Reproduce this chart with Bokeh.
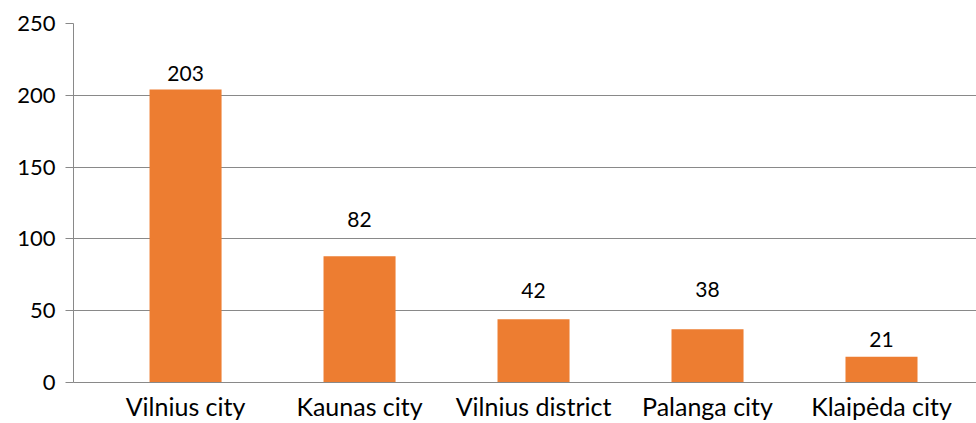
from bokeh.plotting import figure
from bokeh.models import ColumnDataSource, FixedTicker, Range1d
from bokeh.core.properties import value
from bokeh.embed import file_html
from bokeh.resources import INLINE

categories = ["Vilnius city", "Kaunas city", "Vilnius district", "Palanga city", "Klaipėda city"]
bar_values = [204, 88, 44, 37, 18]
label_texts = ["203", "82", "42", "38", "21"]
y_ticks = [0, 50, 100, 150, 200, 250]

# layout (pixel offsets of the value labels above bar tops)
label_gap_px = [9, 29, 21, 32, 10]

xs = list(range(len(categories)))
src = ColumnDataSource(dict(x=xs, top=bar_values, txt=label_texts,
                            off=[-g for g in label_gap_px]))

p = figure(width=976, height=423, output_backend="svg", toolbar_location=None,
           x_range=Range1d(-0.644, 4.546), y_range=Range1d(0, 250),
           min_border_left=73, min_border_right=0, min_border_top=23,
           min_border_bottom=39, outline_line_color=None)

p.vbar(x="x", top="top", width=0.414, bottom=0, source=src,
       fill_color="#ED7D31", line_color=None)

p.text(x="x", y="top", text="txt", y_offset="off", source=src,
       text_align="center", text_baseline="bottom",
       text_font=value("Lato"), text_font_size="21px", text_color="#000000")

grid_col = "#898989"
p.xgrid.grid_line_color = None
p.ygrid.grid_line_color = grid_col
p.ygrid.grid_line_width = 1
p.ygrid.ticker = FixedTicker(ticks=y_ticks)

p.yaxis.ticker = FixedTicker(ticks=y_ticks)
p.yaxis.axis_line_color = grid_col
p.yaxis.major_tick_line_color = grid_col
p.yaxis.major_tick_out = 8
p.yaxis.major_tick_in = 0
p.yaxis.minor_tick_line_color = None
p.yaxis.major_label_standoff = 10
p.yaxis.major_label_text_font = "Lato"
p.yaxis.major_label_text_font_size = "22px"
p.yaxis.major_label_text_color = "#000000"

p.xaxis.ticker = FixedTicker(ticks=xs)
p.xaxis.major_label_overrides = {i: c for i, c in zip(xs, categories)}
p.xaxis.axis_line_color = grid_col
p.xaxis.major_tick_line_color = None
p.xaxis.major_tick_out = 0
p.xaxis.major_tick_in = 0
p.xaxis.minor_tick_line_color = None
p.xaxis.major_label_standoff = 8
p.xaxis.major_label_text_font = "Lato"
p.xaxis.major_label_text_font_size = "25px"
p.xaxis.major_label_text_color = "#000000"

open("out.html", "w").write(file_html(p, INLINE))
